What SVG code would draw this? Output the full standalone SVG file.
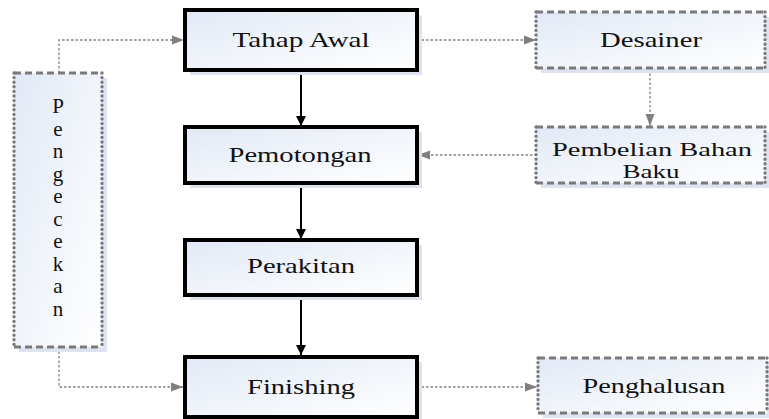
<svg xmlns="http://www.w3.org/2000/svg" width="769" height="419" viewBox="0 0 769 419">
<defs>
<linearGradient id="g" x1="0" y1="0" x2="1" y2="1">
<stop offset="0" stop-color="#e2e9f5"/>
<stop offset="1" stop-color="#ffffff"/>
</linearGradient>
<marker id="ab" markerWidth="10" markerHeight="10" refX="10" refY="5" orient="auto" markerUnits="userSpaceOnUse">
<path d="M0,0 L10,5 L0,10 Z" fill="#000"/>
</marker>
<marker id="ag" markerWidth="12" markerHeight="10" refX="12" refY="5" orient="auto" markerUnits="userSpaceOnUse">
<path d="M0,0.5 L12,5 L0,9.5 Z" fill="#7f7f7f"/>
</marker>
</defs>
<style>
.sh{fill:#dde4f0}
.bx{fill:url(#g);stroke:#000;stroke-width:4}
.db{fill:url(#g);stroke:none}
.dh{stroke:#7a7a7a;stroke-width:3;stroke-dasharray:7 4;fill:none}
.dv{stroke:#7a7a7a;stroke-width:3.4;stroke-dasharray:0 4.6;stroke-linecap:round;fill:none}
.t{font-family:"Liberation Serif","Times New Roman",serif;font-size:21px;fill:#111;text-anchor:middle}
.s{font-size:19px}
.v{font-family:"Liberation Serif","Times New Roman",serif;font-size:21px;fill:#111;text-anchor:middle}
.cb{stroke:#000;stroke-width:2;fill:none;marker-end:url(#ab)}
.cg{stroke:#808080;stroke-width:1.3;stroke-dasharray:2.5 2;fill:none;marker-end:url(#ag)}
</style>
<g id="connectors">
<path class="cb" d="M301,70 V126"/>
<path class="cb" d="M301,183 V239"/>
<path class="cb" d="M301,295 V355"/>
<path class="cg" d="M417,40 H536"/>
<path class="cg" d="M650,69 V126"/>
<path class="cg" d="M537,155 H418"/>
<path class="cg" d="M59,73 V40 H184"/>
<path class="cg" d="M59,347 V387 H183"/>
<path class="cg" d="M417,387 H537"/>
</g>
<g id="tahap-awal">
<rect class="sh" x="190" y="15" width="232" height="60"/>
<rect class="bx" x="185" y="10" width="232" height="60"/>
<text class="t" x="301" y="47" textLength="137" lengthAdjust="spacingAndGlyphs">Tahap Awal</text>
</g>
<g id="pemotongan">
<rect class="sh" x="190" y="132" width="232" height="56"/>
<rect class="bx" x="185" y="127" width="232" height="56"/>
<text class="t" x="300" y="162" textLength="143" lengthAdjust="spacingAndGlyphs">Pemotongan</text>
</g>
<g id="perakitan">
<rect class="sh" x="190" y="245" width="232" height="55"/>
<rect class="bx" x="185" y="240" width="232" height="55"/>
<text class="t" x="301" y="273" textLength="108" lengthAdjust="spacingAndGlyphs">Perakitan</text>
</g>
<g id="finishing">
<rect class="sh" x="190" y="362" width="232" height="60"/>
<rect class="bx" x="185" y="357" width="232" height="60"/>
<text class="t" x="301" y="394" textLength="108" lengthAdjust="spacingAndGlyphs">Finishing</text>
</g>
<g id="desainer">
<rect class="sh" x="541" y="17" width="229" height="56"/>
<rect class="db" x="536" y="12" width="229" height="56"/>
<path class="dh" d="M536,12 H765 M536,68 H765"/>
<path class="dv" d="M536,12 V68 M765,12 V68"/>
<text class="t" x="651" y="47" textLength="102" lengthAdjust="spacingAndGlyphs">Desainer</text>
</g>
<g id="pembelian">
<rect class="sh" x="541" y="132" width="229" height="56"/>
<rect class="db" x="536" y="127" width="229" height="56"/>
<path class="dh" d="M536,127 H765 M536,183 H765"/>
<path class="dv" d="M536,127 V183 M765,127 V183"/>
<text class="t s" x="652" y="156" textLength="200" lengthAdjust="spacingAndGlyphs">Pembelian Bahan</text>
<text class="t s" x="651" y="178" textLength="57" lengthAdjust="spacingAndGlyphs">Baku</text>
</g>
<g id="penghalusan">
<rect class="sh" x="543" y="363" width="229" height="55"/>
<rect class="db" x="538" y="358" width="229" height="55"/>
<path class="dh" d="M538,358 H767 M538,413 H767"/>
<path class="dv" d="M538,358 V413 M767,358 V413"/>
<text class="t" x="654" y="393" textLength="143" lengthAdjust="spacingAndGlyphs">Penghalusan</text>
</g>
<g id="pengecekan">
<rect class="sh" x="19" y="78" width="88" height="274"/>
<rect class="db" x="14" y="73" width="88" height="274"/>
<path class="dh" d="M14,73 H102 M14,347 H102"/>
<path class="dv" d="M14,73 V347 M102,73 V347"/>
<text class="v" x="58" y="113">P</text>
<text class="v" x="58" y="135.5">e</text>
<text class="v" x="58" y="158">n</text>
<text class="v" x="58" y="180.5">g</text>
<text class="v" x="58" y="203">e</text>
<text class="v" x="58" y="225.5">c</text>
<text class="v" x="58" y="248">e</text>
<text class="v" x="58" y="270.5">k</text>
<text class="v" x="58" y="293">a</text>
<text class="v" x="58" y="315.5">n</text>
</g>
</svg>
